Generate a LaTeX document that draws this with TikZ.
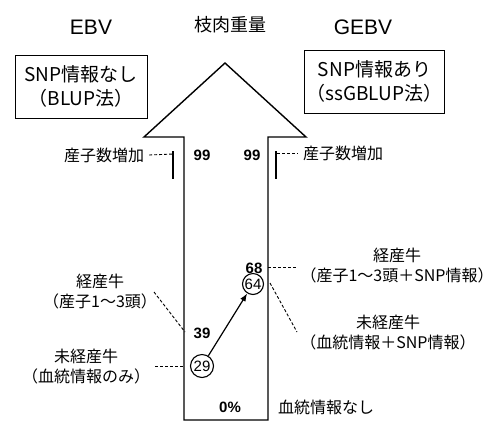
\documentclass[tikz,border=0pt]{standalone}
\usepackage{fontspec}
\setmainfont{Liberation Sans}
\newfontfamily\jp{Noto Sans CJK JP}
\usetikzlibrary{arrows.meta}
\tikzset{
  jplabel/.style={font=\jp\fontsize{16}{20}\selectfont, align=center, inner sep=0pt},
  boxlabel/.style={draw, line width=1pt, font=\jp\fontsize{19}{24}\selectfont, align=center, inner sep=2pt},
  title/.style={font=\fontsize{21}{24}\selectfont, inner sep=0pt},
  num/.style={font=\bfseries\fontsize{15}{18}\selectfont, inner sep=0pt},
  circnum/.style={draw, circle, line width=1.1pt, minimum size=23pt, inner sep=0pt, font=\fontsize{15}{16}\selectfont},
  leader/.style={dashed, dash pattern=on 3pt off 2pt, line width=0.9pt},
  bar/.style={line width=2pt},
  bigarrow/.style={draw, line width=1.4pt, line join=miter}
}
\begin{document}
\begin{tikzpicture}[x=1pt,y=1pt]
\useasboundingbox (0,0) rectangle (494,-424);
% big arrow
\draw[bigarrow] (184,-420) -- (184,-137) -- (144,-137) -- (225,-63) -- (306,-137) -- (268,-137) -- (268,-420) -- cycle;
% titles
\node[title] (ebv) at (91,-27) {EBV};
\node[title, font=\jp\fontsize{18}{22}\selectfont] (trait) at (230,-25) {枝肉重量};
\node[title] (gebv) at (363,-27) {GEBV};
% boxes
\node[boxlabel, minimum width=132pt, minimum height=63pt] (lbox) at (81,-86.5) {SNP情報なし\\（BLUP法）};
\node[boxlabel, minimum width=137pt, minimum height=63pt] (rbox) at (374.5,-81.5) {SNP情報あり\\（ssGBLUP法）};
% top 99 labels
\node[jplabel] (lsan) at (104,-155) {産子数増加};
\coordinate (lbtop) at (173,-151);
\coordinate (lbbot) at (173,-179);
\coordinate (lbdash) at (173,-154);
\draw[leader] (lsan.east) ++(5pt,0) coordinate (lsanE) -- (lbdash);
\draw[bar] (lbtop) -- (lbbot);
\node[num] (l99) at (202,-155) {99};
\node[num] (r99) at (252,-155) {99};
\coordinate (rbtop) at (276,-151);
\coordinate (rbbot) at (276,-179);
\coordinate (rbdash) at (277,-153);
\draw[bar] (rbtop) -- (rbbot);
\node[jplabel] (rsan) at (343,-153) {産子数増加};
\draw[leader] (rbdash) -- ([xshift=-5pt]rsan.west);
% left lower labels
\node[jplabel] (lkei) at (100,-292) {経産牛\\（産子1～3頭）};
\coordinate (lkeiS) at (154,-292);
\coordinate (lkeiE) at (185,-332);
\draw[leader] (lkeiS) -- (lkeiE);
\node[num] (n39) at (202,-333) {39};
\node[jplabel] (lmi) at (86,-367) {未経産牛\\（血統情報のみ）};
\coordinate (lmiS) at (155,-366);
\coordinate (lmiE) at (184,-366);
\draw[leader] (lmiS) -- (lmiE);
\node[circnum] (c29) at (202,-366) {29};
\node[num] (n68) at (254,-268) {68};
\node[circnum, minimum size=21pt] (c64) at (253,-284) {64};
\draw[line width=1.2pt, -{Latex[length=8pt,width=6pt]}] (c29) -- (c64);
\node[num] (n0) at (230,-407) {0\%};
% right lower labels
\node[jplabel] (rkei) at (397,-266) {経産牛\\（産子1～3頭＋SNP情報）};
\coordinate (rkeiS) at (268,-267);
\coordinate (rkeiE) at (297,-267);
\draw[leader] (rkeiS) -- (rkeiE);
\node[jplabel] (rmi) at (388,-333) {未経産牛\\（血統情報＋SNP情報）};
\coordinate (rmiS) at (270,-283);
\coordinate (rmiE) at (297,-332);
\draw[leader] (rmiS) -- (rmiE);
\node[jplabel] (none) at (326,-407) {血統情報なし};
\end{tikzpicture}
\end{document}
